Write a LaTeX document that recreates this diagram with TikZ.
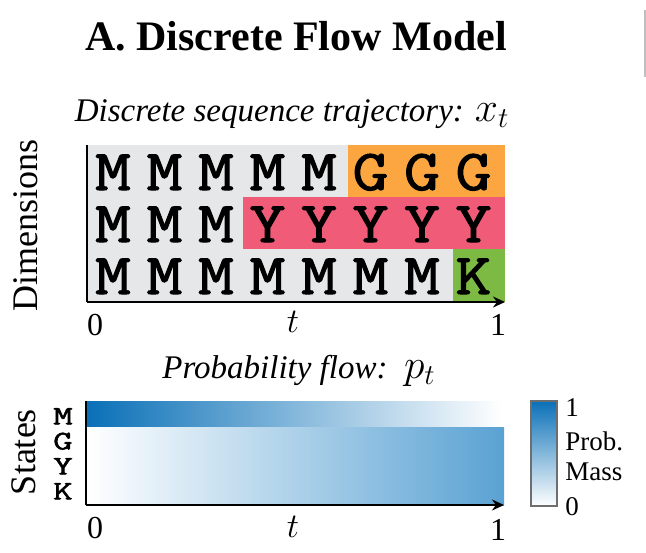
\documentclass[tikz,border=0pt]{standalone}
\usepackage{fontspec}
\usepackage{graphicx}
\setmainfont{Liberation Serif}
\newfontfamily\tokfont[FakeBold=1.7]{Latin Modern Mono}
\usetikzlibrary{positioning,arrows.meta}
\definecolor{uPanel}{HTML}{E6E7E8}
\definecolor{uOrange}{HTML}{FBA640}
\definecolor{uPink}{HTML}{F05B78}
\definecolor{uGreen}{HTML}{7DBA43}
\definecolor{uDeep}{HTML}{0A70B7}
\definecolor{uMid}{HTML}{5AA2D3}
\definecolor{uFrame}{HTML}{6D6E70}
\tikzset{
  heading/.style={font=\fontsize{21}{24}\selectfont\bfseries, inner sep=0pt},
  subhead/.style={font=\fontsize{16.5}{20}\selectfont\itshape, inner sep=0pt},
  tok/.style={font=\fontsize{29}{31}\tokfont, inner sep=0pt,
              text height=18pt, text depth=0pt},
  stok/.style={font=\fontsize{13.5}{15}\tokfont, inner sep=0pt,
               text height=8.5pt, text depth=0pt},
  tick/.style={font=\fontsize{16}{18}\selectfont, inner sep=0pt},
  ylab/.style={font=\fontsize{18}{20}\selectfont, inner sep=0pt, rotate=90},
  barlab/.style={font=\fontsize{13.5}{15}\selectfont, inner sep=0pt, anchor=west},
  axis/.style={line width=1pt},
  taxis/.style={axis, -{Stealth[length=6pt, width=5.5pt]}},
}
\newcommand{\flowvar}[1]{{\fontsize{20}{22}\selectfont$#1$}}
\newcommand{\wide}[2]{\scalebox{#1}[1]{#2}}

\begin{document}
\begin{tikzpicture}[x=0.5pt, y=-0.5pt]
\useasboundingbox (0,0) rectangle (646,552);

\def\L{87}    % left edge of both panels
\def\R{505}   % right edge
\def\P{51.5}  % column pitch

%% ── headings ─────────────────────────────────────────────────────────────
\node[heading] (title) at (296,36) {A. Discrete Flow Model};
\node[subhead] (trajhead) at (292,114) {Discrete sequence trajectory: \flowvar{x_t}};
\draw[black!25, line width=0.6pt] (645,10) -- (645,77);

%% ── sequence trajectory ──────────────────────────────────────────────────
\fill[uPanel] (\L,145) rectangle (\R,302);
\fill[uOrange] (348,145) rectangle (\R,197);
\fill[uPink] (243,197) rectangle (\R,249);
\fill[uGreen] (453,249) rectangle (\R,302);

\foreach \s [count=\i] in {M,M,M,M,M,G,G,G}
  \node[tok] (ra\i) at ({61.5+\P*\i},172) {\wide{1.2}{\s}};
\foreach \s [count=\i] in {M,M,M,Y,Y,Y,Y,Y}
  \node[tok] (rb\i) at ({61.5+\P*\i},224) {\wide{1.2}{\s}};
\foreach \s [count=\i] in {M,M,M,M,M,M,M,K}
  \node[tok] (rc\i) at ({61.5+\P*\i},276) {\wide{1.2}{\s}};

\coordinate (top1) at (\L,145);
\coordinate (org1) at (\L,302);
\coordinate (end1) at (\R,302);
\draw[axis] (top1) -- (org1);
\draw[taxis] (org1) -- (end1);
\node[tick] (zero1) at (95,325) {0};
\node[tick] (t1) at (293,322) {$t$};
\node[tick] (one1) at (498,325) {1};
\node[ylab] (dims) at (26,225) {Dimensions};

%% ── probability flow ─────────────────────────────────────────────────────
\node[subhead] (flowhead) at (299,371) {Probability flow:\, \flowvar{p_t}};
\shade[left color=uDeep, right color=white] (\L,401) rectangle (502,427);
\shade[left color=white, right color=uMid] (\L,427) rectangle (504,505);

\coordinate (top2) at (86,401);
\coordinate (org2) at (86,505);
\coordinate (end2) at (504,505);
\draw[axis] (top2) -- (org2);
\draw[taxis] (org2) -- (end2);
\node[tick] (zero2) at (95,528) {0};
\node[tick] (t2) at (293,527) {$t$};
\node[tick] (one2) at (498,530) {1};
\node[ylab] (states) at (24,452) {States};
\foreach \s [count=\i] in {M,G,Y,K}
  \node[stok] (st\i) at (63,{391+25*\i}) {\wide{1.4}{\s}};

%% ── colour bar ───────────────────────────────────────────────────────────
\shade[top color=uDeep, bottom color=white, draw=uFrame, line width=1.25pt]
  (531,401) rectangle (557,506);
\node[barlab] (bhi) at (565,408) {1};
\node[barlab] (bprob) at (565,441) {Prob.};
\node[barlab] (bmass) at (565,472) {Mass};
\node[barlab] (blo) at (565,507) {0};

\end{tikzpicture}
\end{document}
